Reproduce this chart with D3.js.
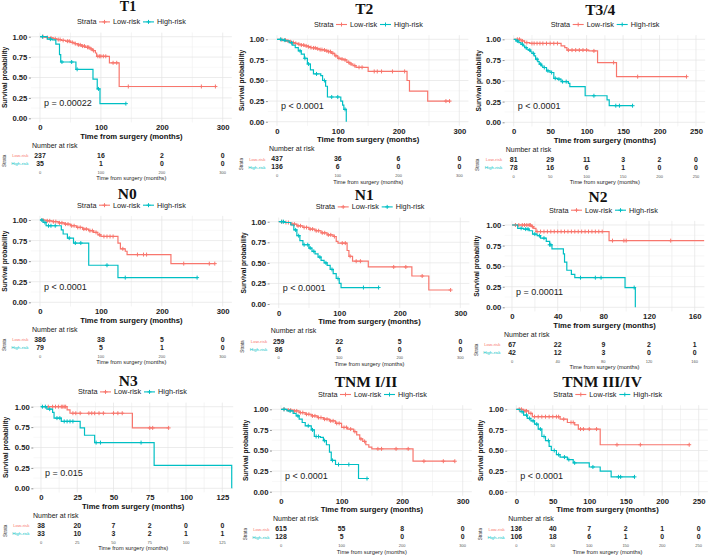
<!DOCTYPE html>
<html><head><meta charset="utf-8">
<script src="https://cdn.jsdelivr.net/npm/d3@7"></script>
<style>body{margin:0;background:#fff}svg{display:block}</style>
</head><body>
<svg id="c" width="709" height="556"></svg>
<script>
// ---------- DATA ----------
const panelTitles = ["T1","T2","T3/4","N0","N1","N2","N3","TNM I/II","TNM III/IV"];
const pLabels = ["p = 0.00022","p < 0.0001","p < 0.0001","p < 0.0001","p < 0.0001","p = 0.00011","p = 0.015","p < 0.0001","p < 0.0001"];
const strataNames = ["Low-risk","High-risk"];
const xTicks = [
  [0,100,200,300],[0,100,200,300],[0,50,100,150,200,250],
  [0,100,200,300],[0,100,200,300],[0,40,80,120,160],
  [0,25,50,75,100,125],[0,100,200,300],[0,50,100,150,200,250]
];
const yTicks = [0,0.25,0.5,0.75,1];
const yTickLabels = ["0.00","0.25","0.50","0.75","1.00"];

// survival steps [time, survival]
const lowT1 = [[0,1],[8,0.99],[15,0.985],[22,0.975],[28,0.965],[35,0.955],[42,0.945],[50,0.93],[56,0.915],[62,0.9],[68,0.885],[75,0.87],[82,0.85],[86,0.83],[91,0.8],[93,0.76],[114,0.68],[130,0.39],[288,0.39]];
const highT1 = [[0,1],[12,0.97],[20,0.96],[26,0.91],[32,0.78],[34,0.69],[59,0.6],[87,0.48],[94,0.36],[98.5,0.18],[141,0.18]];
const lowT2 = [[0,1],[5,0.995],[10,0.99],[15,0.98],[20,0.97],[25,0.96],[30,0.95],[35,0.94],[40,0.93],[45,0.92],[50,0.91],[55,0.9],[60,0.895],[65,0.885],[70,0.875],[75,0.87],[80,0.86],[85,0.85],[90,0.83],[95,0.8],[100,0.77],[105,0.76],[110,0.75],[115,0.72],[120,0.7],[125,0.68],[130,0.66],[150,0.61],[214,0.5],[218,0.37],[248,0.25],[285,0.25]];
const highT2 = [[0,1],[8,0.99],[14,0.98],[20,0.96],[25,0.93],[30,0.9],[35,0.86],[40,0.82],[45,0.77],[50,0.7],[55,0.63],[60,0.58],[72,0.56],[75,0.5],[80,0.43],[83,0.3],[105,0.25],[108,0.2],[110,0.15],[114,0]];
const lowT34 = [[0,1],[10,0.98],[15,0.96],[22,0.95],[65,0.92],[70,0.9],[73,0.87],[103,0.86],[115,0.72],[141,0.55],[237,0.55]];
const highT34 = [[0,1],[3,0.98],[7,0.96],[10,0.94],[13,0.92],[15,0.9],[18,0.88],[20,0.87],[23,0.85],[25,0.83],[28,0.8],[30,0.76],[33,0.73],[35,0.7],[38,0.68],[40,0.66],[45,0.62],[50,0.6],[55,0.53],[60,0.52],[65,0.49],[75,0.47],[77,0.43],[98,0.32],[128,0.27],[131,0.2],[163,0.2]];
const lowN0 = [[0,1],[10,0.99],[20,0.98],[30,0.965],[40,0.95],[50,0.93],[60,0.91],[70,0.89],[80,0.87],[88,0.85],[95,0.82],[100,0.8],[128,0.72],[132,0.65],[140,0.62],[143,0.58],[215,0.47],[287,0.47]];
const highN0 = [[0,1],[5,0.97],[10,0.93],[35,0.88],[38,0.83],[45,0.78],[55,0.72],[80,0.45],[128,0.3],[258,0.3]];
const lowN1 = [[0,1],[10,0.99],[20,0.97],[30,0.95],[40,0.93],[50,0.91],[60,0.89],[70,0.865],[80,0.84],[90,0.82],[95,0.76],[98,0.74],[113,0.65],[116,0.58],[122,0.52],[148,0.45],[220,0.34],[248,0.17],[284,0.17]];
const highN1 = [[0,1],[10,0.99],[20,0.96],[25,0.9],[30,0.83],[35,0.77],[40,0.72],[50,0.68],[55,0.64],[60,0.61],[65,0.57],[70,0.53],[75,0.5],[80,0.47],[85,0.42],[90,0.37],[95,0.31],[100,0.25],[103,0.2],[165,0.2]];
const lowN2 = [[0,1],[17,0.98],[19,0.96],[21,0.92],[85,0.81],[168.5,0.81]];
const highN2 = [[0,1],[5,0.96],[10,0.95],[15,0.93],[18,0.89],[22,0.87],[25,0.84],[30,0.8],[33,0.76],[35,0.71],[45,0.65],[46,0.55],[48,0.45],[52,0.4],[55,0.36],[99,0.24],[108,0]];
const lowN3 = [[0,1],[18,0.96],[20,0.92],[63,0.74],[88,0.74]];
const highN3 = [[0,1],[4,0.97],[8,0.93],[9,0.86],[14,0.82],[27,0.74],[30,0.65],[37,0.56],[78,0.28],[131.5,0]];
const lowTNM12 = [[0,1],[10,0.99],[20,0.98],[30,0.96],[40,0.94],[50,0.92],[60,0.9],[70,0.88],[80,0.86],[90,0.83],[100,0.78],[110,0.76],[120,0.73],[125,0.69],[130,0.64],[135,0.61],[140,0.57],[145,0.54],[150,0.52],[218,0.37],[287,0.37]];
const highTNM12 = [[0,1],[10,0.98],[20,0.95],[25,0.92],[30,0.88],[35,0.84],[40,0.8],[50,0.75],[55,0.67],[65,0.66],[70,0.62],[75,0.57],[80,0.48],[83,0.38],[90,0.33],[128,0.16],[142,0.16]];
const lowTNM34 = [[0,1],[10,0.98],[17,0.95],[22,0.91],[60,0.88],[70,0.84],[80,0.81],[85,0.76],[115,0.57],[237,0.57]];
const highTNM34 = [[0,1],[5,0.97],[10,0.93],[15,0.89],[20,0.86],[25,0.82],[30,0.76],[35,0.67],[40,0.62],[45,0.55],[48,0.5],[55,0.45],[60,0.42],[70,0.39],[78,0.35],[100,0.3],[115,0.25],[130,0.18],[162,0.18]];

// censoring times
const cenLowT1 = [5,12,18,25,30,33,38,45,48,53,58,63,66,70,73,78,80,84,88,95,98,100,104,108,120,126,145,265,288];
const cenHighT1 = [4,17,36,52,61,96,141];
const cenLowT2 = [8,14,18,22,27,31,36,40,44,48,52,56,60,63,67,71,74,78,82,85,88,92,97,102,107,112,118,122,128,135,140,160,165,172,190,210,278,284];
const cenHighT2 = [6,12,24,38,46,52,65,78,90,100,112];
const cenLowT34 = [5,8,12,18,25,28,32,36,40,45,50,55,60,75,80,85,90,95,100,110,137,170,237];
const cenHighT34 = [5,12,17,22,27,32,37,42,47,52,57,62,67,72,110,140,145,163];
const cenLowN0 = [5,12,16,22,26,32,36,42,46,52,56,62,66,72,76,82,86,92,98,105,110,115,120,136,160,170,175,236,278,287];
const cenHighN0 = [3,8,14,18,25,48,58,67,110,140,258];
const cenLowN1 = [5,12,16,22,26,32,36,42,46,52,56,62,66,72,76,82,86,92,105,110,118,128,135,190,210,237,284];
const cenHighN1 = [5,8,28,33,42,48,52,58,68,78,88,98,140,165];
const cenLowN2 = [3,6,9,11,13,15,16,18,22,25,28,31,34,37,40,43,46,49,52,55,58,61,64,67,70,73,76,79,88,98,100,139];
const cenHighN2 = [8,12,14,20,24,28,33,34,60,73,78,107];
const cenLowN3 = [5,8,10,12,14,15,16,17,22,24,27,33,35,37,40,43,50,53,56,75,77,88];
const cenHighN3 = [1,3,6,11,13,16,18,20,22,38,41,69];
const cenLowTNM12 = [5,12,16,22,26,32,36,42,46,52,56,62,66,72,76,82,86,92,96,104,108,115,122,132,138,160,166,190,210,236,268,287];
const cenHighTNM12 = [5,15,28,45,52,58,62,72,85,95,112,142];
const cenLowTNM34 = [4,7,12,14,20,25,30,35,40,45,50,55,58,65,75,78,88,92,100,110,138,170,237];
const cenHighTNM34 = [8,14,18,23,28,33,38,44,52,58,66,72,80,105,140,143,162];

// number at risk
const riskLow = [[237,16,2,0],[437,36,6,0],[81,29,11,3,2,0],[386,38,5,0],[259,22,5,0],[67,22,9,2,1],[38,20,7,2,0,0],[615,55,8,0],[136,40,7,2,1,0]];
const riskHigh = [[35,1,0,0],[136,6,0,0],[78,16,6,1,0,0],[79,5,1,0],[86,6,0,0],[42,12,3,0,0],[33,10,3,2,1,1],[128,5,0,0],[106,18,6,1,0,0]];

const curvesLow = [lowT1,lowT2,lowT34,lowN0,lowN1,lowN2,lowN3,lowTNM12,lowTNM34];
const curvesHigh = [highT1,highT2,highT34,highN0,highN1,highN2,highN3,highTNM12,highTNM34];
const censLow = [cenLowT1,cenLowT2,cenLowT34,cenLowN0,cenLowN1,cenLowN2,cenLowN3,cenLowTNM12,cenLowTNM34];
const censHigh = [cenHighT1,cenHighT2,cenHighT34,cenHighN0,cenHighN1,cenHighN2,cenHighN3,cenHighTNM12,cenHighTNM34];

// ---------- LAYOUT (pixel placement of each panel) ----------
const layout = [
  {x0:40,   xk:222.7, y1:36.7,  y0:118.3, lo:-15,  hi:315,   tx:128,   ty:10.9},
  {x0:277,  xk:459.3, y1:39.3,  y0:121.7, lo:-15,  hi:315,   tx:364.3, ty:13.5},
  {x0:513.7,xk:696,   y1:39.3,  y0:122.3, lo:-12.5,hi:262.5, tx:600.3, ty:15},
  {x0:40,   xk:222.7, y1:220,   y0:302.3, lo:-15,  hi:315,   tx:127.3, ty:199},
  {x0:278.7,xk:460.3, y1:221.7, y0:304,   lo:-15,  hi:315,   tx:364.3, ty:200},
  {x0:512,  xk:694.7, y1:225,   y0:307.3, lo:-6.4, hi:168.5, tx:598,   ty:202.3},
  {x0:41,   xk:222.3, y1:406.7, y0:488.3, lo:-5.3, hi:132.5, tx:128.3, ty:385.7},
  {x0:281,  xk:462.7, y1:409.3, y0:491.7, lo:-15,  hi:315,   tx:366,   ty:387.3},
  {x0:516.3,xk:698.7, y1:409.3, y0:491.7, lo:-12.5,hi:262.5, tx:602,   ty:387.3}
];
const RED = "#F8766D", TEAL = "#00BFC4";
const SANS = "'Liberation Sans', Arial, sans-serif";
const SERIF = "'Liberation Serif', 'Times New Roman', serif";

const svg = d3.select("#c");
const defs = svg.append("defs");

function plus(g, x, y, color, s){
  g.append("path").attr("d",`M${x-s},${y}H${x+s}M${x},${y-s}V${y+s}`)
    .attr("stroke",color).attr("stroke-width",1).attr("fill","none");
}
function survAt(curve, t){
  let s = curve[0][1];
  for (const p of curve){ if (p[0] <= t) s = p[1]; else break; }
  return s;
}

layout.forEach((L, i) => {
  const ticks = xTicks[i];
  const tMax = ticks[ticks.length-1];
  const x = d3.scaleLinear().domain([0, tMax]).range([L.x0, L.xk]);
  const y = d3.scaleLinear().domain([0, 1]).range([L.y0, L.y1]);
  const left = x(L.lo), right = x(L.hi), top = y(1.05), bottom = y(-0.05);
  const g = svg.append("g");

  // title
  g.append("text").attr("x", L.tx).attr("y", L.ty).attr("text-anchor","middle")
    .attr("font-family", SERIF).attr("font-weight","bold").attr("font-size", i===0?14:15.5)
    .attr("fill","#111").text(panelTitles[i]);

  // legend
  const lx = L.x0 + 37, ly = L.y1 - 12.3;
  g.append("text").attr("x", lx).attr("y", ly).attr("font-family", SANS).attr("font-size",7.3).attr("fill","#222").text("Strata");
  [[RED,22,36],[TEAL,66,80]].forEach((d, k) => {
    g.append("line").attr("x1", lx+d[1]).attr("x2", lx+d[1]+11).attr("y1", ly-2.5).attr("y2", ly-2.5)
      .attr("stroke", d[0]).attr("stroke-width",1.1);
    plus(g, lx+d[1]+5.5, ly-2.5, d[0], 2);
    g.append("text").attr("x", lx+d[2]).attr("y", ly).attr("font-family", SANS).attr("font-size",7.3).attr("fill","#222").text(strataNames[k]);
  });

  // grid
  const minorX = [];
  for (let k = 0; k < ticks.length; k++){
    const step = ticks[1]-ticks[0];
    minorX.push(ticks[k] - step/2, ticks[k] + step/2);
  }
  const grid = g.append("g");
  minorX.filter(v => x(v) > left && x(v) < right).forEach(v => {
    grid.append("line").attr("x1",x(v)).attr("x2",x(v)).attr("y1",top).attr("y2",bottom).attr("stroke","#f1f1f1").attr("stroke-width",0.5);
  });
  [0.125,0.375,0.625,0.875].forEach(v => {
    grid.append("line").attr("x1",left).attr("x2",right).attr("y1",y(v)).attr("y2",y(v)).attr("stroke","#f1f1f1").attr("stroke-width",0.5);
  });
  ticks.forEach(v => {
    grid.append("line").attr("x1",x(v)).attr("x2",x(v)).attr("y1",top).attr("y2",bottom).attr("stroke","#e4e4e4").attr("stroke-width",0.7);
  });
  yTicks.forEach(v => {
    grid.append("line").attr("x1",left).attr("x2",right).attr("y1",y(v)).attr("y2",y(v)).attr("stroke","#e4e4e4").attr("stroke-width",0.7);
  });

  // axes
  const yAxis = d3.axisLeft(y).tickValues(yTicks).tickFormat((d,k)=>yTickLabels[k]).tickSize(2).tickPadding(1.5);
  const ya = g.append("g").attr("transform",`translate(${left},0)`).call(yAxis);
  ya.select(".domain").remove();
  ya.selectAll("line").attr("stroke","#444").attr("stroke-width",0.6);
  ya.selectAll("text").attr("font-family",SANS).attr("font-weight","bold").attr("font-size",7.7).attr("fill","#222");

  const xAxis = d3.axisBottom(x).tickValues(ticks).tickFormat(d3.format("d")).tickSize(0).tickPadding(2.3);
  const xa = g.append("g").attr("transform",`translate(0,${bottom})`).call(xAxis);
  xa.select(".domain").remove();
  xa.selectAll("text").attr("font-family",SANS).attr("font-weight","bold").attr("font-size",7.7).attr("fill","#222");

  g.append("text").attr("x",(left+right)/2).attr("y",L.y0+20.3).attr("text-anchor","middle")
    .attr("font-family",SANS).attr("font-weight","bold").attr("font-size",7.7).attr("fill","#111")
    .text("Time from surgery (months)");
  g.append("text").attr("transform",`translate(${L.x0-35.5},${(L.y0+L.y1)/2}) rotate(-90)`)
    .attr("text-anchor","middle").attr("dominant-baseline","central")
    .attr("font-family",SANS).attr("font-weight","bold").attr("font-size",6.6).attr("fill","#111")
    .text("Survival probability");

  // curves
  const cid = "clip"+i;
  defs.append("clipPath").attr("id",cid).append("rect").attr("x",left).attr("y",top-3).attr("width",right-left).attr("height",bottom-top+6);
  const cg = g.append("g").attr("clip-path",`url(#${cid})`);
  const line = d3.line().x(d=>x(d[0])).y(d=>y(d[1])).curve(d3.curveStepAfter);
  [[curvesLow[i], censLow[i], RED],[curvesHigh[i], censHigh[i], TEAL]].forEach(([cur, cen, col]) => {
    cg.append("path").datum(cur).attr("d", line).attr("fill","none").attr("stroke",col).attr("stroke-width",1.2);
    cen.forEach(t => plus(cg, x(t), y(survAt(cur, t)), col, 2));
  });

  // p value
  g.append("text").attr("x",L.x0+4).attr("y",y(0.155)).attr("font-family",SANS).attr("font-size",9).attr("fill","#222").text(pLabels[i]);

  // risk table
  g.append("text").attr("x",L.x0-8).attr("y",L.y0+29.3).attr("font-family",SANS).attr("font-size",7).attr("fill","#222").text("Number at risk");
  ticks.forEach(v => {
    g.append("line").attr("x1",x(v)).attr("x2",x(v)).attr("y1",L.y0+34).attr("y2",L.y0+50).attr("stroke","#eeeeee").attr("stroke-width",0.6);
  });
  [[riskLow[i], RED, 39.6, strataNames[0]],[riskHigh[i], TEAL, 47.6, strataNames[1]]].forEach(([vals, col, dy, nm]) => {
    vals.forEach((v, k) => {
      g.append("text").attr("x",x(ticks[k])).attr("y",L.y0+dy).attr("text-anchor","middle")
        .attr("font-family",SANS).attr("font-weight","bold").attr("font-size",6.9).attr("fill","#222").text(v);
    });
    g.append("text").attr("x",L.x0-11.5).attr("y",L.y0+dy-0.8).attr("text-anchor","end")
      .attr("font-family",SANS).attr("font-size",4.4).attr("fill",col).text(nm);
  });
  g.append("text").attr("transform",`translate(${L.x0-36},${L.y0+42.5}) rotate(-90)`)
    .attr("text-anchor","middle").attr("dominant-baseline","central")
    .attr("font-family",SANS).attr("font-size",4.6).attr("fill","#333").text("Strata");
  ticks.forEach(v => {
    g.append("text").attr("x",x(v)).attr("y",L.y0+55.3).attr("text-anchor","middle")
      .attr("font-family",SANS).attr("font-size",4).attr("fill","#555").text(v);
  });
  g.append("text").attr("x",(left+right)/2).attr("y",L.y0+62).attr("text-anchor","middle")
    .attr("font-family",SANS).attr("font-size",5.7).attr("fill","#222").text("Time from surgery (months)");
});
</script>
</body></html>
